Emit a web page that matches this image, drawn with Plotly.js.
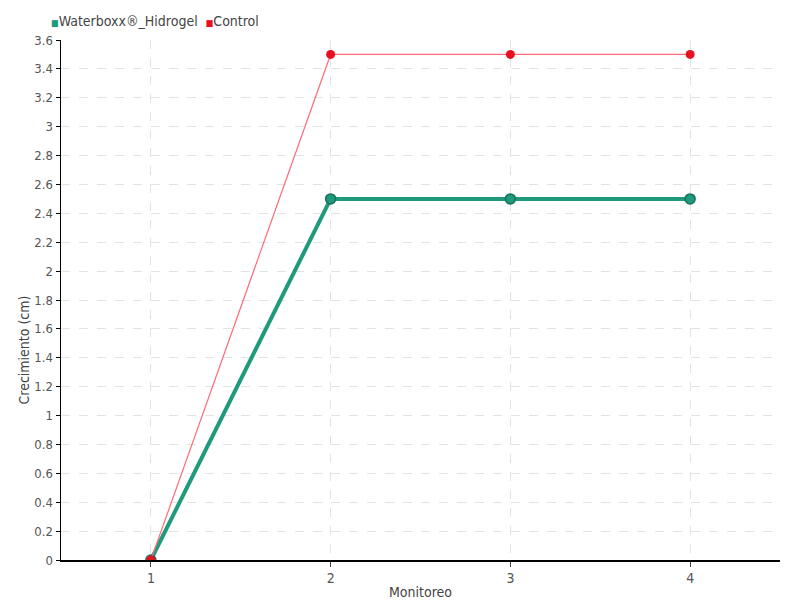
<!DOCTYPE html>
<html><head><meta charset="utf-8">
<script src="https://cdn.plot.ly/plotly-3.0.1.min.js"></script>
<style>html,body{margin:0;padding:0;background:#fff}#c{width:800px;height:600px}</style>
</head><body><div id="c"></div>
<script>
const monitoreo = [1, 2, 3, 4];
const waterboxx = [0, 2.5, 2.5, 2.5];
const control = [0, 3.5, 3.5, 3.5];
const seriesNames = ["Waterboxx®_Hidrogel", "Control"];
const yTicks = [0,0.2,0.4,0.6,0.8,1,1.2,1.4,1.6,1.8,2,2.2,2.4,2.6,2.8,3,3.2,3.4,3.6];

const fontFam = "'DejaVu Sans Condensed', 'Liberation Sans Narrow', sans-serif";
const green = '#1f9a7c', red = '#e8101e';
const traces = [
  {x: monitoreo, y: waterboxx, mode: 'lines+markers', name: seriesNames[0],
   line: {color: green, width: 4}, marker: {color: green, size: 10, line: {color: '#17705a', width: 1.5}}},
  {x: monitoreo, y: control, mode: 'lines+markers', name: seriesNames[1],
   line: {color: '#ff6b78', width: 1.2}, marker: {color: red, size: 9}}
];
const colors = [green, red];
const legendText = seriesNames.map((n, i) =>
  '<span style="color:' + colors[i] + ';font-size:9px">■</span><span style="color:#444">' + n + '</span>').join('  ');
const layout = {
  width: 800, height: 600,
  margin: {l: 61, r: 20, t: 40, b: 40},
  paper_bgcolor: '#fff', plot_bgcolor: '#fff',
  font: {family: fontFam, size: 13, color: '#444'},
  showlegend: false,
  annotations: [
    {text: legendText, xref: 'paper', yref: 'paper', x: -0.016, xanchor: 'left',
     y: 1.036, yanchor: 'middle', showarrow: false, font: {size: 14, color: '#444'}},
    {text: 'Crecimiento (cm)', xref: 'paper', yref: 'paper', x: -0.052, xanchor: 'center',
     y: 0.404, yanchor: 'middle', textangle: -90, showarrow: false, font: {size: 14, color: '#444'}}
  ],
  xaxis: {range: [0.5, 4.5], tickvals: monitoreo, ticktext: monitoreo.map(String),
          showline: true, linecolor: '#000', linewidth: 1.5, zeroline: false,
          showgrid: true, gridcolor: '#e3e3e3', griddash: 'dash', gridwidth: 1,
          ticks: 'outside', ticklen: 5, tickcolor: '#444',
          title: {text: 'Monitoreo', font: {size: 14, color: '#444'}, standoff: 4},
          tickfont: {size: 14, color: '#555'}},
  yaxis: {range: [0, 3.6], tickvals: yTicks, ticktext: yTicks.map(String),
          showline: true, linecolor: '#000', linewidth: 1.5, zeroline: false,
          showgrid: true, gridcolor: '#e3e3e3', griddash: 'dash', gridwidth: 1,
          ticks: 'outside', ticklen: 4, tickcolor: '#000',
          tickfont: {size: 13, color: '#555'}}
};
Plotly.newPlot('c', traces, layout, {displayModeBar: false, staticPlot: true});
</script></body></html>
